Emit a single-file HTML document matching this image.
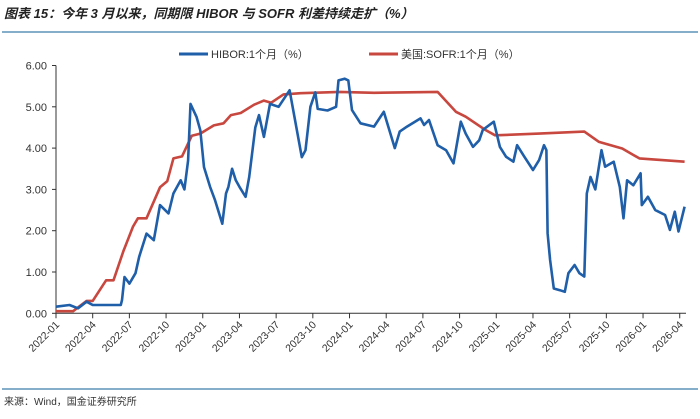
<!DOCTYPE html>
<html><head><meta charset="utf-8"><style>
body{margin:0;background:#fff;width:700px;height:414px;overflow:hidden;font-family:"Liberation Sans","Noto Sans CJK SC",sans-serif}
</style></head><body>
<svg id="c" width="700" height="414" xmlns="http://www.w3.org/2000/svg">
<text x="4" y="18" font-size="13" font-weight="bold" font-style="italic" fill="#222" font-family="'Liberation Sans','Noto Sans CJK SC',sans-serif">图表 15：今年 3 月以来，同期限 HIBOR 与 SOFR 利差持续走扩（%）</text>
<line x1="2" y1="32" x2="698" y2="32" stroke="#5d93b8" stroke-width="1.5"/>
<g>
<g><line x1="179" y1="54" x2="208" y2="54" stroke="#1f5ea8" stroke-width="3"/><text x="211" y="58" font-size="11" fill="#333">HIBOR:1个月（%）</text></g>
<g><line x1="369" y1="54" x2="398" y2="54" stroke="#c8473f" stroke-width="3"/><text x="401" y="58" font-size="11" fill="#333">美国:SOFR:1个月（%）</text></g>
</g>
<g id="axes"></g>
<g id="series"></g>
<line x1="2" y1="389" x2="698" y2="389" stroke="#5d93b8" stroke-width="1.5"/>
<text x="4" y="405" font-size="10" fill="#333">来源：Wind，国金证券研究所</text>
</svg>
<script>
const xTickLabels=["2022-01","2022-04","2022-07","2022-10","2023-01","2023-04","2023-07","2023-10","2024-01","2024-04","2024-07","2024-10","2025-01","2025-04","2025-07","2025-10","2026-01","2026-04"];
const yTickLabels=["0.00","1.00","2.00","3.00","4.00","5.00","6.00"];
const hiborMonths=[0,1.1,1.8,2.5,3,3.6,5.3,5.4,5.6,6,6.5,6.8,7.4,8,8.5,9.2,9.6,10.2,10.5,10.8,11,11.5,11.8,12.1,12.6,13,13.6,13.9,14.1,14.4,14.7,15,15.5,15.8,16.3,16.6,17,17.5,18.2,19.1,19.5,20.1,20.4,20.8,21.2,21.4,22.2,22.9,23.1,23.6,23.9,24.2,24.9,26,26.8,27.7,28.1,28.7,29.8,30.1,30.5,31.2,31.9,32.5,33.1,33.5,34.1,34.6,34.9,35.8,36.3,36.8,37.4,37.7,38.3,39,39.5,39.9,40.1,40.2,40.4,40.7,41.2,41.6,41.9,42.4,42.8,43.2,43.4,43.7,44.1,44.6,44.9,45.6,46.1,46.4,46.7,47.2,47.8,47.9,48.4,49,49.8,50.2,50.6,50.9,51.4];
const hiborValues=[0.16,0.2,0.12,0.28,0.2,0.2,0.2,0.32,0.88,0.72,0.97,1.37,1.93,1.77,2.62,2.42,2.9,3.22,3.0,3.7,5.07,4.75,4.43,3.54,3.06,2.74,2.17,2.9,3.06,3.5,3.22,3.06,2.82,3.3,4.5,4.8,4.27,5.07,5.0,5.4,4.75,3.78,3.95,5.0,5.35,4.95,4.91,5.0,5.64,5.68,5.64,4.92,4.6,4.52,4.88,4.0,4.4,4.52,4.72,4.56,4.68,4.07,3.95,3.63,4.64,4.35,4.03,4.19,4.44,4.64,4.03,3.79,3.67,4.07,3.79,3.47,3.71,4.07,3.95,1.94,1.29,0.6,0.56,0.52,0.97,1.17,0.97,0.89,2.9,3.3,3.0,3.95,3.55,3.67,3.06,2.3,3.22,3.1,3.39,2.62,2.82,2.5,2.38,2.02,2.46,1.98,2.58];
const sofrMonths=[0,1.4,2.5,3,4.1,4.7,5.5,6.3,6.7,7.4,8.5,9.1,9.6,10.3,11.1,11.8,12.9,13.7,14.3,15.1,16.2,17,17.6,18.6,20,23.2,26,31.2,32.7,33.5,35.1,35.9,39.5,43.2,44.4,46.3,47.7,51.4];
const sofrValues=[0.05,0.05,0.3,0.3,0.8,0.8,1.5,2.1,2.3,2.3,3.05,3.2,3.75,3.8,4.3,4.35,4.55,4.6,4.8,4.85,5.05,5.15,5.1,5.3,5.33,5.36,5.34,5.36,4.88,4.76,4.44,4.31,4.35,4.4,4.15,3.99,3.75,3.67];
const X0=56,MW=12.23,Y0=313.3,UH=41.3;
const xs=m=>X0+m*MW, ys=v=>Y0-v*UH;
const NS="http://www.w3.org/2000/svg";
const ax=document.getElementById('axes'), se=document.getElementById('series');
function mk(t,a,p){const e=document.createElementNS(NS,t);for(const k in a)e.setAttribute(k,a[k]);p.appendChild(e);return e;}
const ya=mk('line',{x1:X0,y1:ys(6),x2:X0,y2:Y0,stroke:'#333','stroke-width':1},ax);


const xa=mk('line',{x1:X0,y1:Y0,x2:686,y2:Y0,stroke:'#333','stroke-width':1},ax);


yTickLabels.forEach((l,i)=>{const v=parseFloat(l);
 mk('line',{x1:X0-4,y1:ys(v),x2:X0,y2:ys(v),stroke:'#333'},ax);
 const t=mk('text',{x:X0-9,y:ys(v)+4,'font-size':11,fill:'#333','text-anchor':'end'},ax);t.textContent=l;
 
 });
xTickLabels.forEach((l,i)=>{const x=xs(i*3);
 mk('line',{x1:x,y1:Y0,x2:x,y2:Y0+5,stroke:'#333'},ax);
 const t=mk('text',{x:0,y:0,'font-size':10.5,fill:'#333','text-anchor':'end',transform:`translate(${x+4},${Y0+12}) rotate(-45)`},ax);t.textContent=l;
 
 });
function line(ms,vs,c,n){const d=ms.map((m,i)=>(i?'L':'M')+xs(m).toFixed(1)+','+ys(vs[i]).toFixed(1)).join('');
 const p=mk('path',{d:d,fill:'none',stroke:c,'stroke-width':2.6,'stroke-linejoin':'round'},se);
 
 }
line(sofrMonths,sofrValues,'#c8473f','sofr-line');
line(hiborMonths,hiborValues,'#1f5ea8','hibor-line');
</script>
</body></html>
